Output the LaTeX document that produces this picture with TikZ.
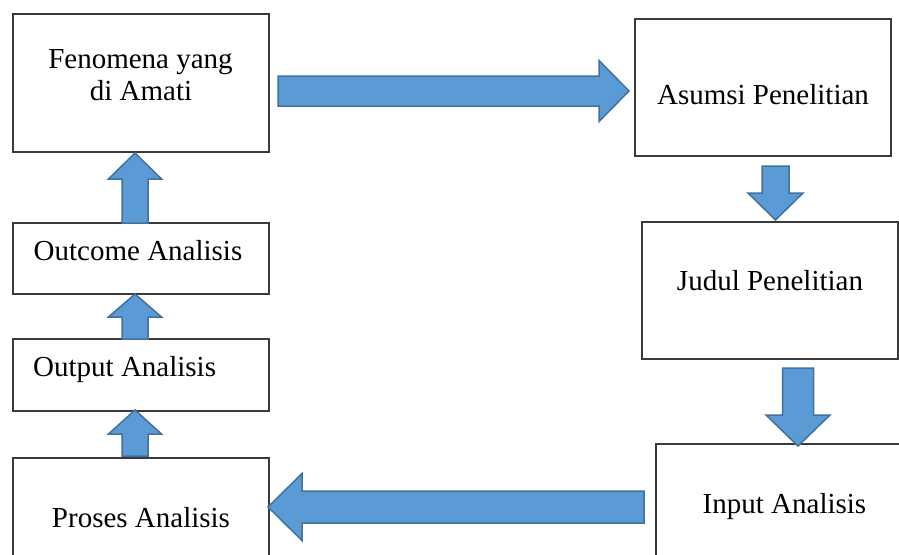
\documentclass[tikz,border=0pt]{standalone}
\usepackage{fontspec}
\setmainfont{Liberation Serif}
\usetikzlibrary{calc}
\definecolor{arrowfill}{HTML}{5B9BD5}
\definecolor{arrowline}{HTML}{41719C}
\definecolor{boxline}{HTML}{3A3A3A}
\tikzset{
  framebox/.style={draw=boxline, line width=1.1pt, fill=white, inner sep=0pt, minimum width=256pt},
  lbl/.style={inner sep=0pt, anchor=base, font=\fontsize{29}{34}\selectfont},
  barrow/.style={fill=arrowfill, draw=arrowline, line width=1.5pt, line join=miter}
}
\newcommand{\myblockarrow}[6]{%
  \coordinate (#1b) at ($(#3)!#6!(#2)$);
  \draw[barrow] ($(#2)!#4!90:(#3)$) -- ($(#1b)!#4!-90:(#2)$) -- ($(#1b)!#5!-90:(#2)$) -- (#3)
    -- ($(#1b)!#5!90:(#2)$) -- ($(#1b)!#4!90:(#2)$) -- ($(#2)!#4!-90:(#3)$) -- cycle;
}
\begin{document}
\begin{tikzpicture}[x=1pt,y=-1pt]
\useasboundingbox (0,0) rectangle (899,554);
\clip (0,0) rectangle (899,554);
\fill[white] (0,0) rectangle (899,554);
% boxes
\node[framebox, minimum height=138pt] (fen) at (141,83) {};
\node[framebox, minimum height=137pt] (asu) at (763,87.5) {};
\node[framebox, minimum height=137pt] (jud) at (770,290.5) {};
\node[framebox, minimum width=257pt, minimum height=156pt] (inp) at (784.5,522) {};
\node[framebox, minimum height=142pt] (pro) at (141,529) {};
\node[framebox, minimum height=72pt] (out) at (141,375) {};
\node[framebox, minimum height=71pt] (outc) at (141,258.5) {};
% texts
\node[lbl] (fenA) at (140.5,68) {Fenomena yang};
\node[lbl] (fenB) at (141,100) {di Amati};
\node[lbl] (asuT) at (763,104) {Asumsi Penelitian};
\node[lbl] (judT) at (770,290) {Judul Penelitian};
\node[lbl] (inpT) at (784.5,513) {Input Analisis};
\node[lbl] (proT) at (141,527) {Proses Analisis};
\node[lbl, anchor=base west] (outT) at (33,376) {Output Analisis};
\node[lbl] (outcT) at (138,260) {Outcome Analisis};
% arrow end points
\coordinate (r1s) at (278,91);   \coordinate (r1e) at (629,91);
\coordinate (d1s) at (775.5,166); \coordinate (d1e) at (775.5,220);
\coordinate (d2s) at (798,368);  \coordinate (d2e) at (798,446);
\coordinate (l1s) at (644,507);  \coordinate (l1e) at (268,507);
\coordinate (u3s) at (135,456);  \coordinate (u3e) at (135,410);
\coordinate (u2s) at (135,339);  \coordinate (u2e) at (135,294);
\coordinate (u1s) at (135,223);  \coordinate (u1e) at (135,153);
% block arrows
\myblockarrow{r1}{r1s}{r1e}{15pt}{30.5pt}{30pt}
\myblockarrow{d1}{d1s}{d1e}{13.5pt}{27.5pt}{27pt}
\myblockarrow{d2}{d2s}{d2e}{15.5pt}{32pt}{31pt}
\myblockarrow{l1}{l1s}{l1e}{16pt}{33.5pt}{34pt}
\myblockarrow{u3}{u3s}{u3e}{13pt}{26.5pt}{24pt}
\myblockarrow{u2}{u2s}{u2e}{13pt}{26.5pt}{23pt}
\myblockarrow{u1}{u1s}{u1e}{13pt}{26.5pt}{26pt}
\end{tikzpicture}
\end{document}
